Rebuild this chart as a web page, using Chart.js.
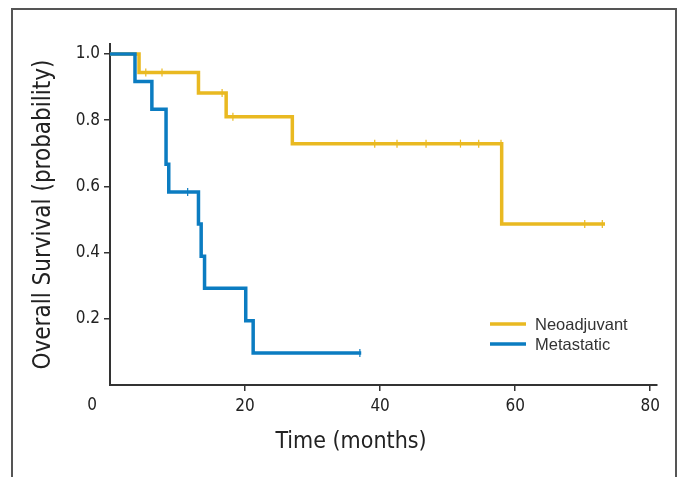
<!DOCTYPE html>
<html>
<head>
<meta charset="utf-8">
<script src="https://cdn.jsdelivr.net/npm/chart.js@4/dist/chart.umd.min.js"></script>
<style>
  html, body { margin: 0; padding: 0; background: #fff; }
  #wrap { position: relative; width: 679px; height: 477px; overflow: hidden; }
  #frame { position: absolute; left: 11px; top: 8px; width: 662px; height: 490px;
           border: 2px solid #555; border-bottom: none; }
  #chart { position: absolute; left: 0; top: 0; }
</style>
</head>
<body>
<div id="wrap">
  <div id="frame"></div>
  <canvas id="chart" width="679" height="477"></canvas>
</div>
<script>
// 数据：Kaplan-Meier 生存曲线
const neoTimes = [0, 4.3, 13.1, 17.2, 27.0, 58.0, 73.3];
const neoSurv = [1.0, 0.944, 0.882, 0.81, 0.729, 0.486, 0.486];
const neoCensorTimes = [5.3, 7.7, 16.6, 18.2, 39.2, 42.5, 46.8, 51.9, 54.6, 57.9, 70.3, 72.9];
const neoCensorSurv = [0.944, 0.944, 0.882, 0.81, 0.729, 0.729, 0.729, 0.729, 0.729, 0.729, 0.486, 0.486];

const metTimes = [0, 3.7, 6.2, 8.3, 8.7, 13.1, 13.5, 14.0, 20.1, 21.2, 37.2];
const metSurv = [1.0, 0.917, 0.833, 0.667, 0.583, 0.486, 0.389, 0.292, 0.194, 0.097, 0.097];
const metCensorTimes = [11.5, 37.0];
const metCensorSurv = [0.583, 0.097];

const seriesLabels = ['Neoadjuvant', 'Metastatic'];
const xTicks = [20, 40, 60, 80];
const yTicks = [0.2, 0.4, 0.6, 0.8, 1.0];

const GOLD = '#E9B921';
const BLUE = '#0B7CC1';
const AXIS = '#333';
const narrow = "'Liberation Sans Narrow', 'DejaVu Sans Condensed', sans-serif";

const pts = (xs, ys) => xs.map((x, i) => ({ x, y: ys[i] }));

function stepSet(label, xs, ys, color) {
  return {
    label, data: pts(xs, ys), borderColor: color, backgroundColor: color,
    borderWidth: 3.5, stepped: 'before', pointRadius: 0, fill: false
  };
}

function censorSet(xs, ys, color) {
  return {
    data: pts(xs, ys), showLine: false, borderColor: color, backgroundColor: color,
    pointStyle: 'line', rotation: 90, pointRadius: 4, borderWidth: 1.2
  };
}

// 图例 + 额外文字（x 轴 0 标签和标题）
const extras = {
  id: 'extras',
  afterDraw(chart) {
    const c = chart.ctx;
    const xs = chart.scales.x;
    c.save();
    c.fillStyle = '#222';
    c.font = '17px ' + narrow;
    c.textAlign = 'center';
    c.textBaseline = 'top';
    c.fillText('0', xs.getPixelForValue(0) - 18, 397);
    c.font = '23px ' + narrow;
    c.textBaseline = 'middle';
    c.fillText('Time (months)', 351, 442);

    const items = [[seriesLabels[0], GOLD], [seriesLabels[1], BLUE]];
    c.font = "16.5px 'Liberation Sans', Arial, sans-serif";
    c.textAlign = 'left';
    items.forEach(([txt, col], i) => {
      const y = 324 + i * 20;
      c.strokeStyle = col;
      c.lineWidth = 3.5;
      c.beginPath();
      c.moveTo(490, y);
      c.lineTo(526, y);
      c.stroke();
      c.fillStyle = '#333';
      c.fillText(txt, 535, y + 1);
    });
    c.restore();
  }
};

new Chart(document.getElementById('chart'), {
  type: 'line',
  data: {
    datasets: [
      censorSet(neoCensorTimes, neoCensorSurv, GOLD),
      stepSet(seriesLabels[0], neoTimes, neoSurv, GOLD),
      censorSet(metCensorTimes, metCensorSurv, BLUE),
      stepSet(seriesLabels[1], metTimes, metSurv, BLUE)
    ].reverse()
  },
  options: {
    responsive: false,
    animation: false,
    layout: { padding: { left: 0, top: 44, right: 22, bottom: 0 } },
    plugins: { legend: { display: false }, tooltip: { enabled: false } },
    scales: {
      x: {
        type: 'linear', min: 0, max: 81,
        afterBuildTicks: (s) => { s.ticks = xTicks.map(v => ({ value: v })); },
        afterFit: (s) => { s.height = 92; },
        grid: { drawOnChartArea: false, drawTicks: true, tickLength: 6, color: AXIS, lineWidth: 1.5 },
        border: { display: true, color: AXIS, width: 2 },
        ticks: { color: '#222', padding: 5, maxRotation: 0, font: { size: 17, family: narrow } }
      },
      y: {
        type: 'linear', min: 0, max: 1.03,
        afterBuildTicks: (s) => { s.ticks = yTicks.map(v => ({ value: v })); },
        afterFit: (s) => { s.width = 110; },
        grid: { drawOnChartArea: false, drawTicks: true, tickLength: 6, color: AXIS, lineWidth: 1.5 },
        border: { display: true, color: AXIS, width: 2 },
        ticks: { color: '#222', padding: 4, font: { size: 17, family: narrow },
                 callback: (v) => v.toFixed(1) },
        title: { display: true, text: 'Overall Survival (probability)', color: '#222',
                 padding: { top: 29, bottom: 0 }, font: { size: 24, family: narrow } }
      }
    }
  },
  plugins: [extras]
});
</script>
</body>
</html>
